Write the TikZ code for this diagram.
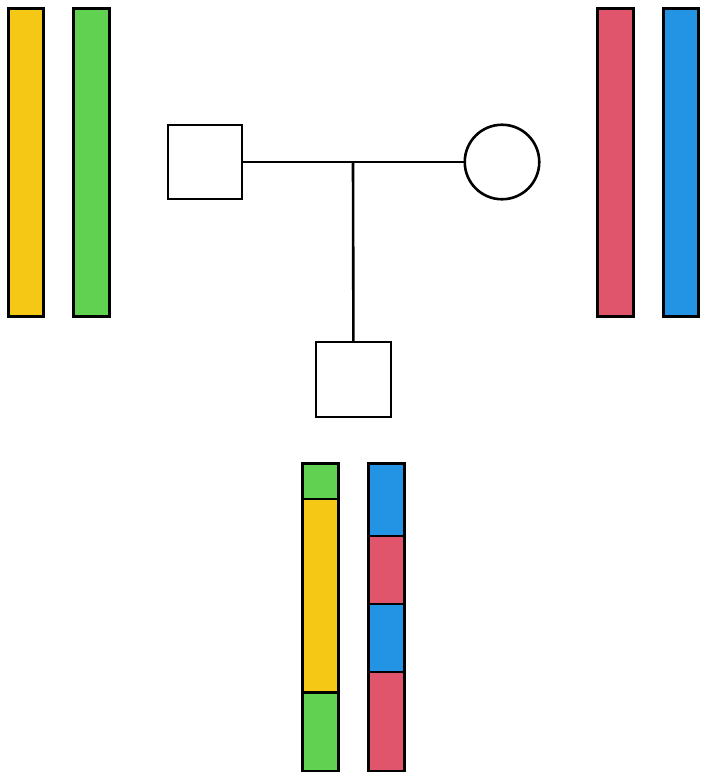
\documentclass[tikz,border=0pt]{standalone}
\usepackage{tikz}

\definecolor{chromyellow}{HTML}{F5C816}
\definecolor{chromgreen}{HTML}{61D151}
\definecolor{chromred}{HTML}{E0556B}
\definecolor{chromblue}{HTML}{2394E3}

\begin{document}
\begin{tikzpicture}[x=1pt, y=-1pt, line width=2.6pt,
    person/.style={draw, inner sep=0pt, outer sep=0pt, minimum size=74pt}]
  \useasboundingbox (0,0) rectangle (702,776);

  % Father's chromosomes
  \draw[fill=chromyellow] (8.3,8.3) rectangle (43.7,316.7);
  \draw[fill=chromgreen] (73.3,8.3) rectangle (109.7,316.7);

  % Mother's chromosomes
  \draw[fill=chromred] (597.3,8.3) rectangle (633.7,316.7);
  \draw[fill=chromblue] (663.3,8.3) rectangle (698.7,316.7);

  % Pedigree
  \node[person, rectangle] (father) at (205,162) {};
  \node[person, circle, minimum size=74.5pt] (mother) at (502,162) {};
  \node[person, rectangle, minimum size=75pt] (child) at (353.5,379.5) {};
  \coordinate (mid) at (353,162);

  \draw (father) -- (mother);
  \draw (mid) -- (child);

  % Child's chromosomes (segments)
  \foreach \ya/\yb/\c in {463.3/499/chromgreen, 499/692.5/chromyellow, 692.5/771/chromgreen}
    \draw[fill=\c] (302.3,\ya) rectangle (338.7,\yb);
  \foreach \ya/\yb/\c in {463.3/536/chromblue, 536/604/chromred, 604/672/chromblue, 672/771/chromred}
    \draw[fill=\c] (368.3,\ya) rectangle (404.7,\yb);
\end{tikzpicture}
\end{document}
